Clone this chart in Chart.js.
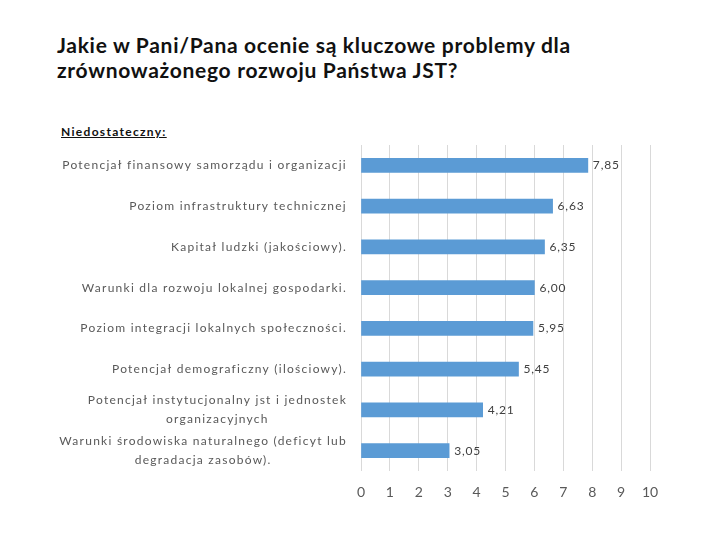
<!DOCTYPE html>
<html>
<head>
<meta charset="utf-8">
<script src="https://cdn.jsdelivr.net/npm/chart.js@4/dist/chart.umd.min.js"></script>
<style>
  body { margin: 0; background: #fff; }
  #wrap { position: relative; width: 720px; height: 540px; }
  #title { position: absolute; left: 57px; top: 32px; font: bold 21px Lato, sans-serif; line-height: 25px; letter-spacing: 0.7px; color: #111; white-space: nowrap; }
  #sub { position: absolute; left: 61px; top: 124px; font: bold 12px Lato, sans-serif; letter-spacing: 1.3px; color: #111; text-decoration: underline; }
  canvas { position: absolute; left: 0; top: 0; }
</style>
</head>
<body>
<div id="wrap">
  <div id="title">Jakie w Pani/Pana ocenie są kluczowe problemy dla<br>zrównoważonego rozwoju Państwa JST?</div>
  <div id="sub">Niedostateczny:</div>
  <canvas id="Chart" width="720" height="540"></canvas>
</div>
<script>
var categories = [
    ['Potencjał finansowy samorządu i organizacji'],
    ['Poziom infrastruktury technicznej'],
    ['Kapitał ludzki (jakościowy).'],
    ['Warunki dla rozwoju lokalnej gospodarki.'],
    ['Poziom integracji lokalnych społeczności.'],
    ['Potencjał demograficzny (ilościowy).'],
    ['Potencjał instytucjonalny jst i jednostek', 'organizacyjnych'],
    ['Warunki środowiska naturalnego (deficyt lub', 'degradacja zasobów).']
];
var values = [7.85, 6.63, 6.35, 6.00, 5.95, 5.45, 4.21, 3.05];
var xTicks = [0, 1, 2, 3, 4, 5, 6, 7, 8, 9, 10];

var labelFont = '12px Lato, sans-serif';

// category labels: right aligned block, lines centered inside the block
var catLabels = {
    id: 'catLabels',
    afterDraw: function(chart) {
        var ctx = chart.ctx;
        var y = chart.scales.y;
        ctx.save();
        ctx.font = labelFont;
        ctx.letterSpacing = '1.25px';
        ctx.fillStyle = '#595959';
        ctx.textAlign = 'center';
        ctx.textBaseline = 'middle';
        var lh = 19;
        for (var i = 0; i < categories.length; i++) {
            var lines = categories[i];
            var w = 0;
            lines.forEach(function(l) { w = Math.max(w, ctx.measureText(l).width); });
            var cx = 347 - w / 2;
            var py = y.getPixelForTick(i) - (lines.length - 1) * lh / 2;
            for (var j = 0; j < lines.length; j++) {
                ctx.fillText(lines[j], cx, py + j * lh);
            }
        }
        ctx.restore();
    }
};

var valueLabels = {
    id: 'valueLabels',
    afterDatasetsDraw: function(chart) {
        var ctx = chart.ctx;
        var meta = chart.getDatasetMeta(0);
        ctx.save();
        ctx.font = labelFont;
        ctx.letterSpacing = '0.8px';
        ctx.fillStyle = '#404040';
        ctx.textAlign = 'left';
        ctx.textBaseline = 'middle';
        meta.data.forEach(function(bar, i) {
            ctx.fillText(values[i].toFixed(2).replace('.', ','), bar.x + 5, bar.y);
        });
        ctx.restore();
    }
};

var ctx = document.getElementById('Chart').getContext('2d');
var myChart = new Chart(ctx, {
    type: 'bar',
    data: {
        labels: categories,
        datasets: [{
            data: values,
            backgroundColor: '#5B9BD5',
            barThickness: 14
        }]
    },
    options: {
        indexAxis: 'y',
        responsive: false,
        animation: false,
        layout: { padding: { left: 0, right: 70, top: 145, bottom: 29 } },
        plugins: { legend: { display: false }, tooltip: { enabled: false } },
        scales: {
            x: {
                min: 0,
                max: 10,
                afterBuildTicks: function(s) { s.ticks = xTicks.map(function(v) { return { value: v }; }); },
                afterFit: function(s) { s.height = 40; },
                grid: { color: '#D9D9D9', drawTicks: false },
                border: { display: false },
                ticks: { color: '#595959', font: { family: 'Lato, sans-serif', size: 14 }, padding: 13 }
            },
            y: {
                afterFit: function(s) { s.width = 361; },
                grid: { display: false },
                border: { display: false },
                ticks: { display: false }
            }
        }
    },
    plugins: [catLabels, valueLabels]
});
</script>
</body>
</html>
